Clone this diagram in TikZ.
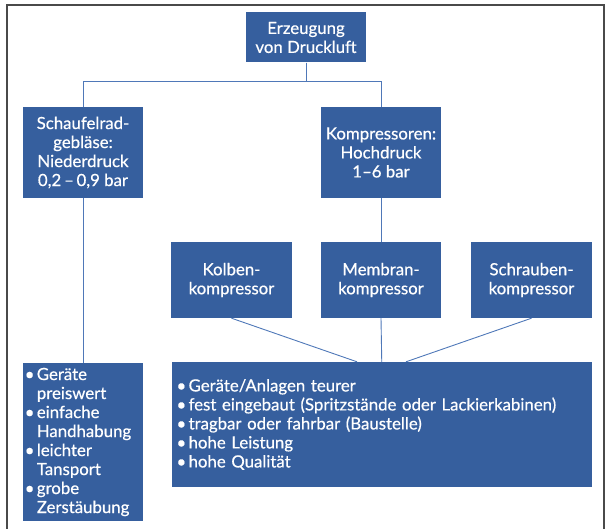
\documentclass[tikz,border=0pt]{standalone}
\usepackage{fontspec}
\setmainfont{Lato}[FakeBold=0.5]
\newfontfamily\medfont{Lato}[FakeBold=0.5]
\definecolor{boxblue}{HTML}{365F9E}
\definecolor{linkblue}{HTML}{4F78B8}
\definecolor{framegray}{HTML}{4A4A4A}
\newcommand{\bu}{\makebox[0.72em][l]{•}}
\newcommand{\ind}{\hspace*{0.72em}}
\begin{document}
\begin{tikzpicture}[x=1pt,y=-1pt,
  box/.style={fill=boxblue, text=white, inner sep=0pt, align=center,
    font=\medfont\fontsize{16.8}{19}\selectfont},
  link/.style={draw=linkblue, line width=0.9pt}]
\useasboundingbox (0,0) rectangle (607,529);
\draw[framegray, line width=1.3pt] (7,529) -- (7,5) -- (604,5) -- (604,529);

\node[box, minimum width=120pt, minimum height=50pt] (top) at (306,37.5) {Erzeugung\\von Druckluft};
\node[box, minimum width=120.5pt, minimum height=91pt] (schau) at (83,152.5) {Schaufelrad-\\gebläse:\\Niederdruck\\0,2\,–\,0,9 bar};
\node[box, minimum width=120pt, minimum height=91pt] (komp) at (381,152.5) {Kompressoren:\\Hochdruck\\1–6 bar};
\node[box, minimum width=120.5pt, minimum height=76pt] (kolben) at (231.5,280) {Kolben-\\kompressor};
\node[box, minimum width=120pt, minimum height=76pt] (membran) at (381,280) {Membran-\\kompressor};
\node[box, minimum width=121pt, minimum height=76pt] (schrauben) at (531.5,280) {Schrauben-\\kompressor};
\node[box, minimum width=120.5pt, minimum height=158pt, text width=116.5pt, align=left] (lowl) at (83,442)
  {\bu Geräte\\\ind preiswert\\\bu einfache\\\ind Handhabung\\\bu leichter\\\ind Tansport\\\bu grobe\\\ind Zerstäubung};
\node[box, minimum width=420.5pt, minimum height=125pt, text width=410.5pt, align=left] (lowr) at (381.75,424.5)
  {\bu Geräte/Anlagen teurer\\\bu fest eingebaut (Spritzstände oder Lackierkabinen)\\\bu tragbar oder fahrbar (Baustelle)\\\bu hohe Leistung\\\bu hohe Qualität};

\coordinate (hy) at (0,81);
\draw[link] (top.south) |- (schau.north |- hy) -- (schau.north);
\draw[link] (top.south) |- (komp.north |- hy) -- (komp.north);
\draw[link] (komp.south) -- (membran.north);
\draw[link] (schau.south) -- (lowl.north);
\draw[link] (membran.south) -- (lowr.north);
\draw[link] (kolben.south) -- ([xshift=-24pt]lowr.north -| membran.south);
\draw[link] (schrauben.south) -- ([xshift=25pt]lowr.north -| membran.south);
\end{tikzpicture}
\end{document}
